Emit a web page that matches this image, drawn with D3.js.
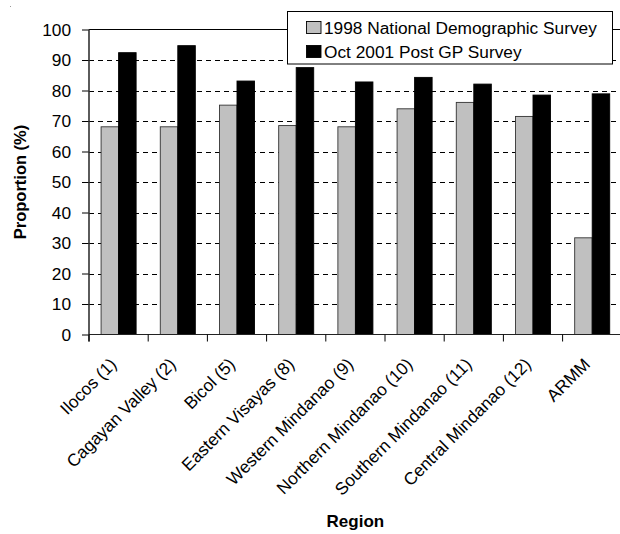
<!DOCTYPE html>
<html><head><meta charset="utf-8">
<script src="https://cdn.jsdelivr.net/npm/d3@7"></script>
<style>
body{margin:0;background:#fff;}
svg{display:block;font-family:"Liberation Sans",Arial,Helvetica,sans-serif;}
</style>
</head><body>
<svg id="chart" width="620" height="534"></svg>
<script>
const categories = ["Ilocos (1)","Cagayan Valley (2)","Bicol (5)","Eastern Visayas (8)","Western Mindanao (9)","Northern Mindanao (10)","Southern Mindanao (11)","Central Mindanao (12)","ARMM"];
const seriesNames = ["1998 National Demographic Survey","Oct 2001 Post GP Survey"];
const survey1998 = [68.1,68.1,75.2,68.5,68.1,74.0,76.1,71.5,31.7];
const survey2001 = [92.4,94.7,83.1,87.5,82.8,84.3,82.1,78.5,78.9];
const yTicks = [0,10,20,30,40,50,60,70,80,90,100];
const seriesColors = ["#c0c0c0","#000000"];

const svg = d3.select("#chart");
const L = 89, R = 621.8, T = 29.5, B = 334.5;

const x = d3.scaleBand().domain(categories).range([L, R]).paddingInner(0).paddingOuter(0);
const x1 = d3.scaleBand().domain(seriesNames).range([0, x.bandwidth()]).paddingInner(0).paddingOuter(0.69);
const y = d3.scaleLinear().domain([0,100]).range([B, T]);

// stray dot
svg.append("rect").attr("x",10).attr("y",6).attr("width",1).attr("height",1).attr("fill","#999");

// gridlines
svg.append("g").selectAll("line").data(yTicks.filter(d=>d>0 && d<100)).join("line")
  .attr("x1",L).attr("x2",R).attr("y1",d=>Math.round(y(d))+0.5).attr("y2",d=>Math.round(y(d))+0.5)
  .attr("stroke","#000").attr("stroke-width",1).attr("stroke-dasharray","5,4");
// top border
svg.append("line").attr("x1",L).attr("x2",R).attr("y1",y(100)).attr("y2",y(100)).attr("stroke","#000");

// bars
const data = categories.map((c,i)=>({cat:c, vals:[survey1998[i], survey2001[i]]}));
const groups = svg.append("g").selectAll("g").data(data).join("g")
  .attr("transform",d=>`translate(${x(d.cat)},0)`);
groups.selectAll("rect").data(d=>d.vals.map((v,j)=>({v, s:seriesNames[j], j}))).join("rect")
  .attr("x",d=>x1(d.s)).attr("width",x1.bandwidth())
  .attr("y",d=>y(d.v)).attr("height",d=>B-y(d.v))
  .attr("fill",d=>seriesColors[d.j]).attr("stroke",d=>d.j===0?"#333":"#000").attr("stroke-width",0.9);

// y axis
const yAxis = svg.append("g").attr("transform",`translate(${L},0)`)
  .call(d3.axisLeft(y).tickValues(yTicks).tickSize(7).tickPadding(11).tickSizeOuter(0));
yAxis.select(".domain").remove();
yAxis.selectAll(".tick line").attr("stroke","#000");
yAxis.selectAll("text").attr("font-size",17.3).attr("fill","#000").attr("font-family","'Liberation Sans',Arial,sans-serif");
svg.append("line").attr("x1",L).attr("x2",L).attr("y1",T).attr("y2",B+7).attr("stroke","#333").attr("stroke-width",1.6);

// x axis
svg.append("line").attr("x1",L).attr("x2",R).attr("y1",B).attr("y2",B).attr("stroke","#222").attr("stroke-width",1.2);
const bounds = categories.map(c=>x(c)).concat([x.range()[1]]);
svg.append("g").selectAll("line").data(bounds).join("line")
  .attr("x1",d=>d).attr("x2",d=>d).attr("y1",B).attr("y2",B+7).attr("stroke","#000");
const xAxis = svg.append("g").attr("transform",`translate(0,${B})`)
  .call(d3.axisBottom(x).tickSize(0).tickPadding(0));
xAxis.select(".domain").remove();
xAxis.selectAll("text")
  .attr("font-size",17.3).attr("fill","#000").attr("font-family","'Liberation Sans',Arial,sans-serif")
  .attr("text-anchor","end").attr("dy",null).attr("y",null)
  .attr("transform","translate(-1,31) rotate(-45)");

// axis titles
svg.append("text").attr("transform",`translate(26,${(T+B)/2}) rotate(-90)`)
  .attr("text-anchor","middle").attr("font-size",16.5).attr("font-weight","bold").text("Proportion (%)");
svg.append("text").attr("x",(L+R)/2).attr("y",527)
  .attr("text-anchor","middle").attr("font-size",17).attr("font-weight","bold").text("Region");

// legend
const lg = svg.append("g");
lg.append("rect").attr("x",287.5).attr("y",11.5).attr("width",325).attr("height",52.5)
  .attr("fill","#fff").attr("stroke","#000");
seriesNames.forEach((s,i)=>{
  lg.append("rect").attr("x",306.5).attr("y",21.5+i*24).attr("width",14.5).attr("height",12)
    .attr("fill",seriesColors[i]).attr("stroke","#000").attr("stroke-width",0.9);
  lg.append("text").attr("x",324).attr("y",33.5+i*24).attr("font-size",17.3).attr("fill","#000").text(s);
});
</script>
</body></html>
